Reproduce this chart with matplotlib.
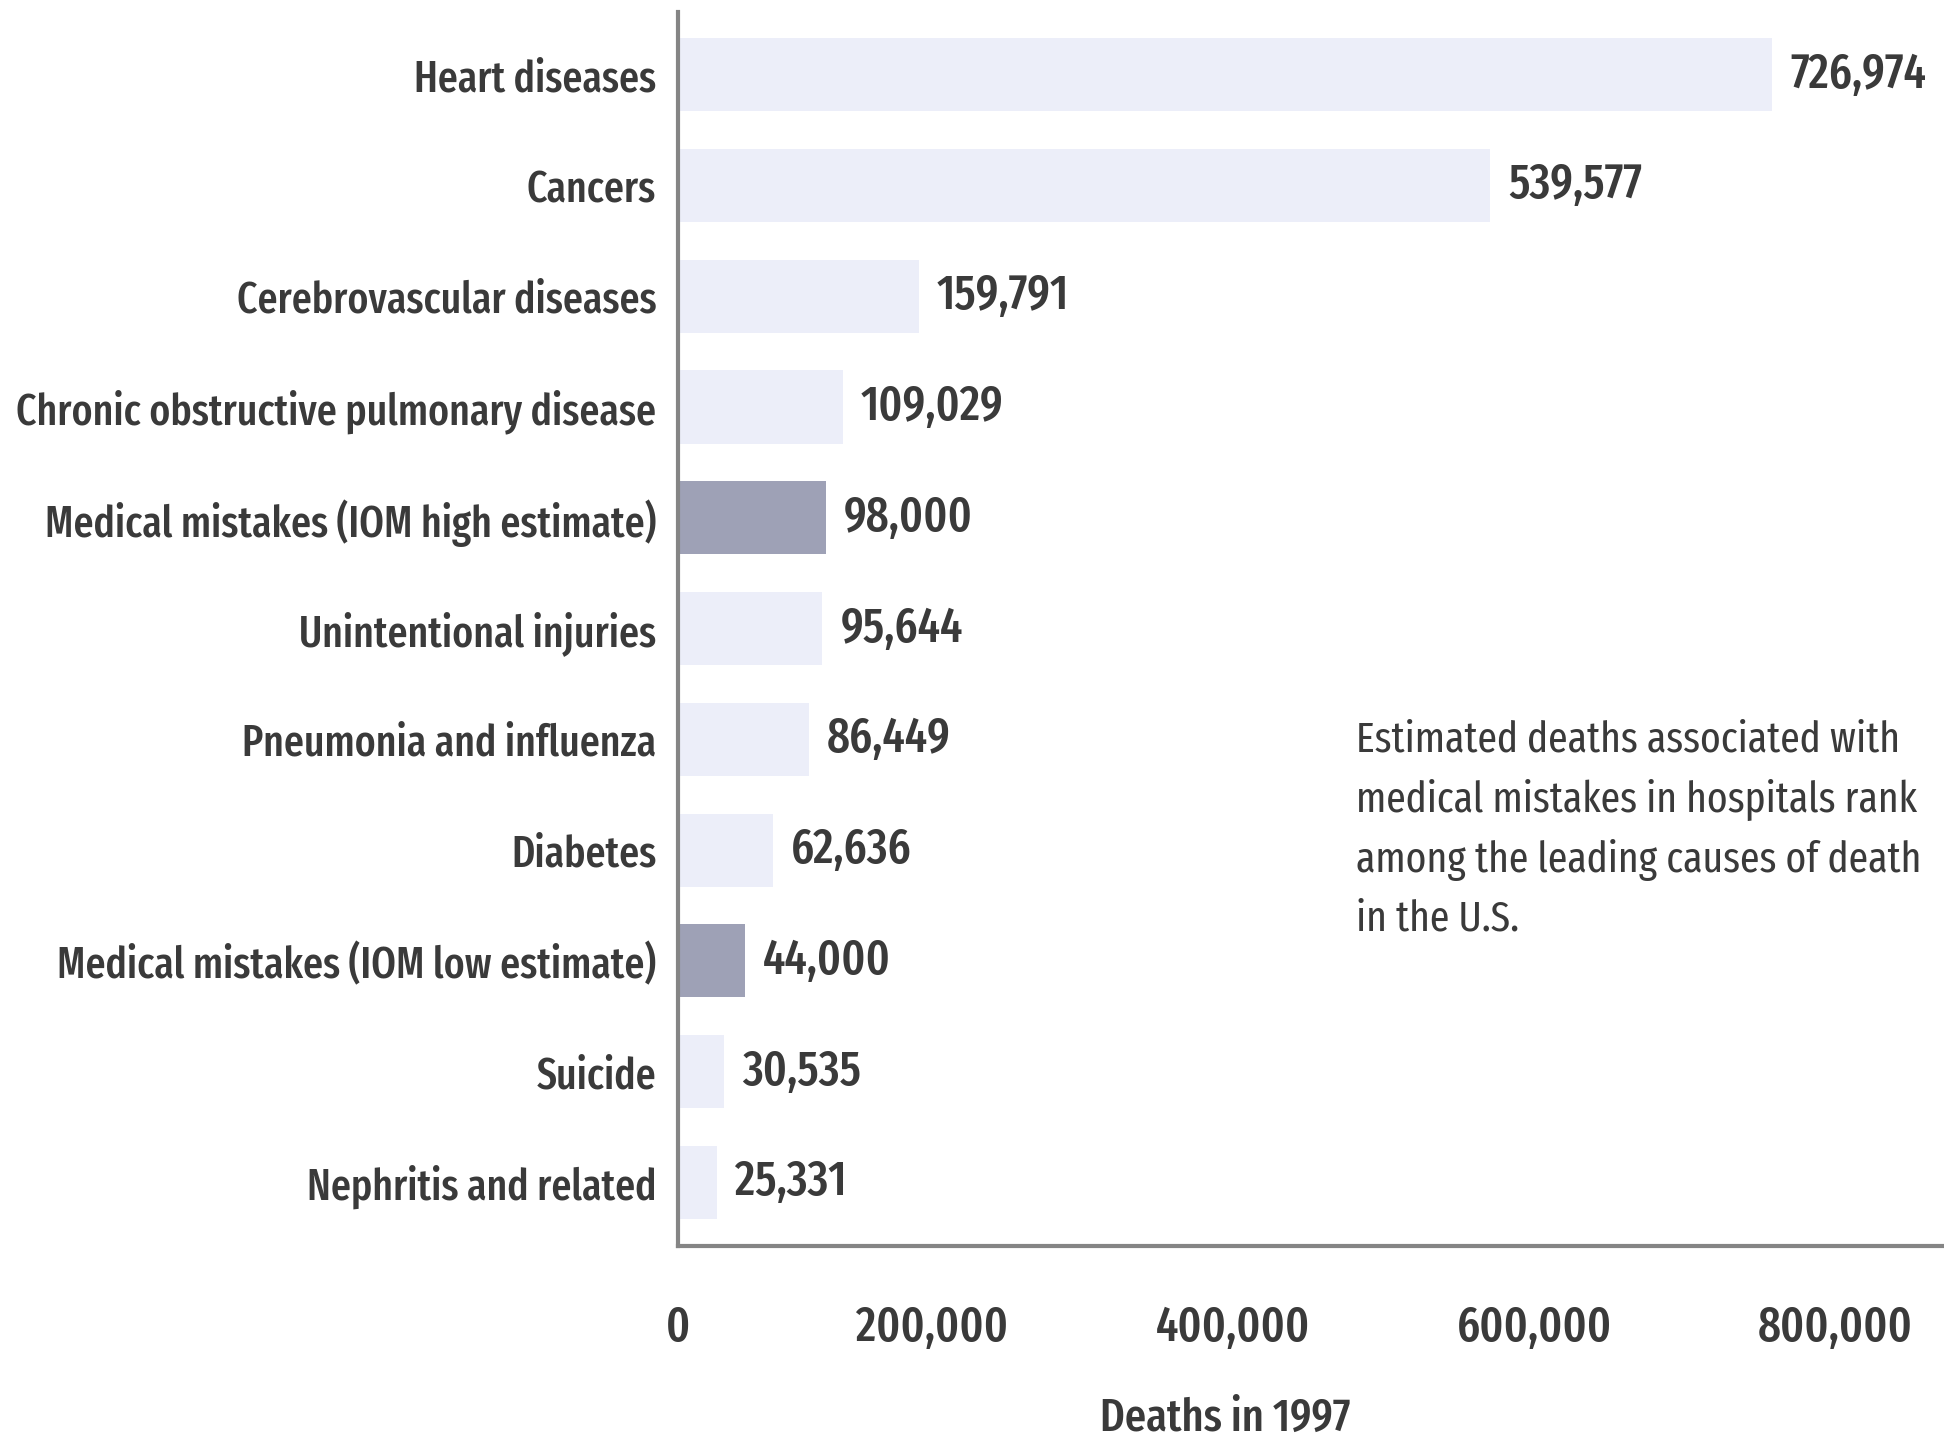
import matplotlib.pyplot as plt
from matplotlib.ticker import FuncFormatter
from matplotlib.transforms import ScaledTranslation

causes = [
    "Heart diseases",
    "Cancers",
    "Cerebrovascular diseases",
    "Chronic obstructive pulmonary disease",
    "Medical mistakes (IOM high estimate)",
    "Unintentional injuries",
    "Pneumonia and influenza",
    "Diabetes",
    "Medical mistakes (IOM low estimate)",
    "Suicide",
    "Nephritis and related",
]
deaths = [726974, 539577, 159791, 109029, 98000, 95644, 86449, 62636, 44000, 30535, 25331]
highlight = [False, False, False, False, True, False, False, False, True, False, False]
x_ticks = [0, 200000, 400000, 600000, 800000]

note = ("Estimated deaths associated with\n"
        "medical mistakes in hospitals rank\n"
        "among the leading causes of death\n"
        "in the U.S.")

plt.rcParams['font.family'] = ['Fira Sans Extra Condensed', 'PT Sans Narrow', 'DejaVu Sans']
text_color = "#3a3a3a"
light = "#eceef9"
dark = "#9ea1b6"
fs_text = 31
fs_num = 35

fig = plt.figure(figsize=(19.44, 14.45), dpi=100)
ax = fig.add_axes([0.349, 0.138, 0.651, 0.854])

colors = [dark if h else light for h in highlight]
ypos = list(range(len(causes)))
ax.barh(ypos, deaths, height=0.66, color=colors, edgecolor="none")

# value labels just past the end of each bar
for y, v in zip(ypos, deaths):
    ax.text(v + 12000, y, f"{v:,}", va="center", ha="left",
            fontsize=fs_num, fontweight="medium", color=text_color)

ax.set_yticks(ypos)
ax.set_yticklabels(causes, fontsize=fs_text, fontweight="medium", color=text_color)
ax.set_ylim(10.57, -0.57)
ax.set_xlim(0, 841000)
ax.set_xticks(x_ticks)
ax.xaxis.set_major_formatter(FuncFormatter(lambda v, p: f"{int(v):,}"))
ax.tick_params(axis="x", length=0, pad=42, labelsize=fs_num, labelcolor=text_color)
ax.tick_params(axis="y", length=0, pad=16)

# tick numbers sit a little left of their gridpoints, except the zero
shift = ScaledTranslation(-0.47, 0, fig.dpi_scale_trans)
for i, lbl in enumerate(ax.get_xticklabels()):
    lbl.set_fontweight("medium")
    if i > 0:
        lbl.set_transform(lbl.get_transform() + shift)

for side in ("top", "right"):
    ax.spines[side].set_visible(False)
for side in ("left", "bottom"):
    ax.spines[side].set_color("#858585")
    ax.spines[side].set_linewidth(3)

ax.set_xlabel("Deaths in 1997", fontsize=33, fontweight="medium", color=text_color)
ax.xaxis.set_label_coords(0.432, -0.122)

ax.text(0.535, 0.426, note, transform=ax.transAxes, ha="left", va="top",
        fontsize=31, color=text_color, linespacing=1.55)

fig.savefig("out.png", dpi=100, facecolor="white")
